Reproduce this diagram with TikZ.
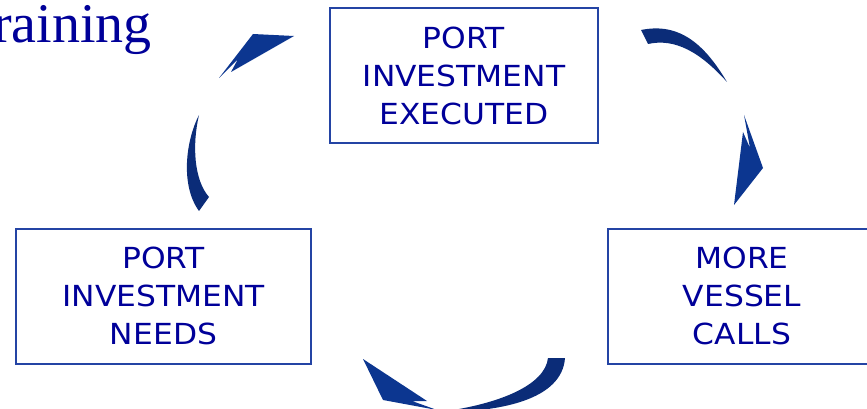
\documentclass[tikz,border=0pt]{standalone}
\usepackage{fontspec}
\setmainfont[FakeStretch=1.08]{DejaVu Sans}
\newfontfamily\titlefont{Liberation Serif}
\usetikzlibrary{positioning}

\definecolor{boxline}{HTML}{2444A4}
\definecolor{boxtext}{HTML}{000099}
\definecolor{arrowdark}{HTML}{0B2C78}
\definecolor{arrowblue}{HTML}{0C3690}

\begin{document}
\begin{tikzpicture}[x=1pt,y=-1pt,
  stage/.style={draw=boxline, line width=2pt, text=boxtext, align=center,
    minimum height=135pt, font=\fontsize{29}{38}\selectfont},
  bodypart/.style={fill=arrowdark},
  headpart/.style={fill=arrowblue}]
\useasboundingbox (0,0) rectangle (867,409);
\clip (0,0) rectangle (867,409);

\node [anchor=base east, text=boxtext, font=\titlefont\fontsize{56}{60}\selectfont, inner sep=0pt] (title) at (152,43) {raining};

\node [stage, minimum width=268pt] (executed) at (464,75.5) {PORT\\INVESTMENT\\EXECUTED};
\node [stage, minimum width=295pt] (needs) at (163.5,296) {PORT\\INVESTMENT\\NEEDS};
\node [stage, minimum width=268pt] (calls) at (742,296) {MORE\\VESSEL\\CALLS};

% needs -> executed
\fill [bodypart] (199,115) .. controls (186,140) and (180,185) .. (199,211) -- (209,197) .. controls (194,180) and (192,145) .. (199,115) -- cycle;
\fill [headpart] (253,34) -- (294,36) -- (231,72) -- (238,59) -- (219,78) -- cycle;

% executed -> calls
\fill [bodypart] (641,30) .. controls (680,22) and (705,45) .. (727,82) .. controls (700,52) and (675,38) .. (648,44) -- cycle;
\fill [headpart] (744,115) -- (763,168) -- (734,205) -- (743,132) -- (750,148) -- cycle;

% calls -> needs
\fill [bodypart] (548,358) -- (565,358) .. controls (562,400) and (500,412) .. (440,412) .. controls (500,404) and (545,385) .. (548,358) -- cycle;
\fill [headpart] (363,359) -- (427,401) -- (412,401) -- (437,410) -- (383,400) -- cycle;
\end{tikzpicture}
\end{document}
